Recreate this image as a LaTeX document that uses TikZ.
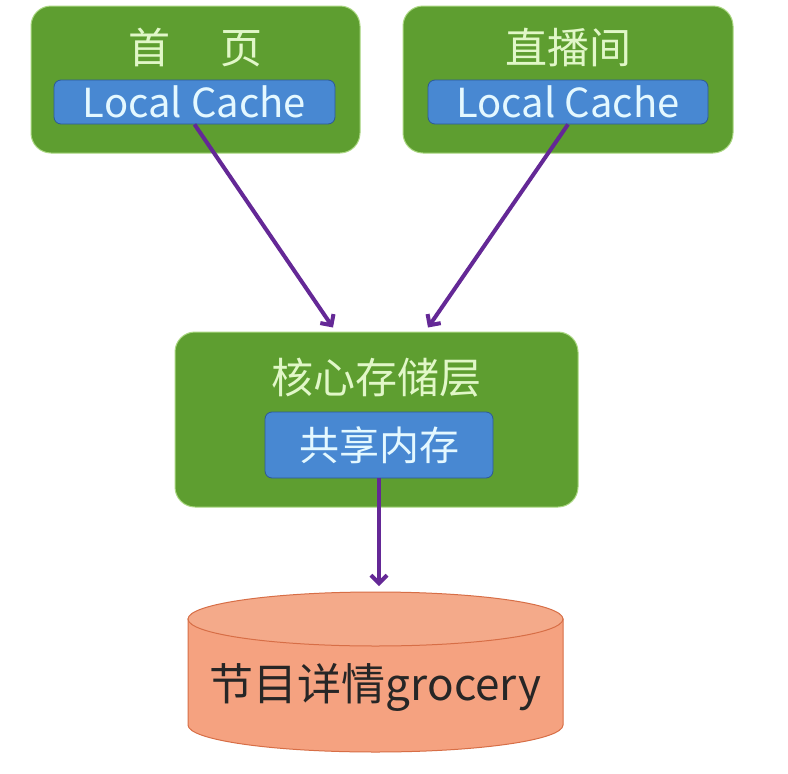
\documentclass[tikz,border=0pt]{standalone}
\usepackage{fontspec}
\setmainfont{Noto Sans CJK SC}
\usetikzlibrary{arrows.meta,calc,backgrounds}

\definecolor{boxgreen}{RGB}{94,158,48}
\definecolor{boxrim}{RGB}{170,215,130}
\definecolor{cacheblue}{RGB}{72,136,210}
\definecolor{cacherim}{RGB}{45,90,150}
\definecolor{titletext}{RGB}{225,247,200}
\definecolor{cachetext}{RGB}{228,248,255}
\definecolor{flowpurple}{RGB}{100,40,150}
\definecolor{dbfill}{RGB}{245,162,128}
\definecolor{dbtop}{RGB}{244,170,138}
\definecolor{dbrim}{RGB}{215,110,70}

\tikzset{
  layer/.style={draw=boxrim, line width=1pt, fill=boxgreen, rounded corners=20pt,
    inner sep=0pt},
  title/.style={text=titletext, font=\fontsize{42}{48}\selectfont, inner sep=0pt},
  cache/.style={draw=cacherim, line width=0.8pt, fill=cacheblue, rounded corners=7pt,
    text=cachetext, font=\fontsize{40}{46}\selectfont, inner sep=0pt},
  flow/.style={draw=flowpurple, line width=4pt,
    -{Straight Barb[length=8pt,width=16pt]}},
  dbtext/.style={text=black!85, font=\fontsize{44}{50}\selectfont, inner sep=0pt,
    minimum width=375pt, minimum height=60pt}
}

\begin{document}
\begin{tikzpicture}[x=1pt,y=1pt]
  \useasboundingbox (0,0) rectangle (788,-774);

  % upper row
  \node[layer, minimum width=329pt, minimum height=147pt] (home) at (195.5,-79.5) {};
  \node[title] (hometitle) at (195.5,-48) {首\hspace{1.2em}页};
  \node[cache, minimum width=281pt, minimum height=44pt] (homecache) at (194.5,-102) {Local Cache};

  \node[layer, minimum width=330pt, minimum height=147pt] (live) at (568,-79.5) {};
  \node[title] (livetitle) at (568,-48) {直播间};
  \node[cache, minimum width=280pt, minimum height=44pt] (livecache) at (568,-102) {Local Cache};

  % core layer
  \node[layer, minimum width=403pt, minimum height=175pt] (core) at (376.5,-419.5) {};
  \node[title] (coretitle) at (376.5,-378) {核心存储层};
  \node[cache, minimum width=228pt, minimum height=66pt] (shm) at (379,-445) {共享内存};

  % storage
  \node[dbtext] (db) at (375.5,-687) {节目详情grocery};
  \coordinate (dbtopc) at (375.5,-592);
  \begin{scope}[on background layer]
    \fill[white] (0,0) rectangle (788,-774);
    \filldraw[fill=dbfill, draw=dbrim, line width=1pt]
      (188,-619) -- (188,-725)
      arc[start angle=180, end angle=360, x radius=187.5pt, y radius=27pt]
      -- (563,-619) -- cycle;
    \filldraw[fill=dbtop, draw=dbrim, line width=1pt]
      (375.5,-619) ellipse [x radius=187.5pt, y radius=27pt];
  \end{scope}

  \coordinate (homein) at ($(core.north)+(-43.5,4)$);
  \coordinate (livein) at ($(core.north)+(51.5,4)$);

  \draw[flow] (homecache.south) -- (homein);
  \draw[flow] (livecache.south) -- (livein);
  \draw[flow, shorten >=6pt] (shm.south) -- (shm.south |- dbtopc);
\end{tikzpicture}
\end{document}
